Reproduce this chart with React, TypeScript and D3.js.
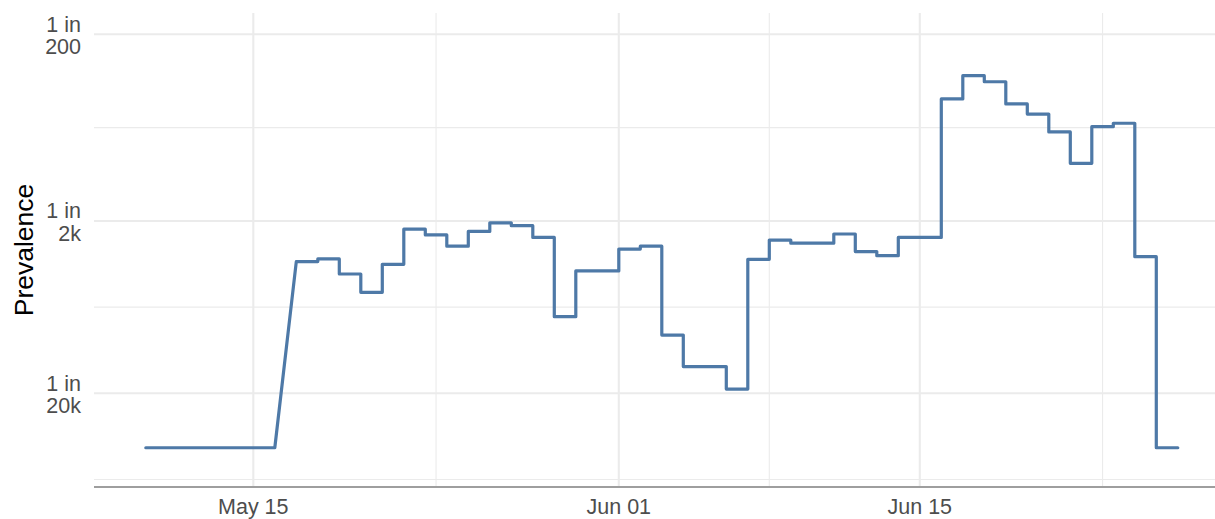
import React from 'react'
import * as d3 from 'd3'

// daily prevalence, shown as "1 in N" (null = no estimate that day)
const firstDay = new Date(Date.UTC(2021, 4, 10))
const lastDay = new Date(Date.UTC(2021, 5, 27))
const oneIn: (number | null)[] = [
  41400, 41400, 41400, 41400, 41400, 41400, null,
  3440, 3320, 4060, 5190, 3570, 2230, 2410, 2800, 2300, 2050, 2130, 2490, 7180, 3900, 3900,
  2910, 2800, 9180, 14000, 14000, 18900, 3340, 2580, 2690, 2690, 2380, 3010, 3180, 2490, 2490,
  444, 333, 359, 472, 535, 667, 982, 625, 599, 3220, 41400
]

const yTicks = [200, 2000, 20000]
const yTickLabels = ['200', '2k', '20k']
const xTicks = [new Date(Date.UTC(2021, 4, 15)), new Date(Date.UTC(2021, 5, 1)), new Date(Date.UTC(2021, 5, 15))]
const xTickLabels = ['May 15', 'Jun 01', 'Jun 15']

export default function App() {
  const width = 1215
  const height = 519
  const panel = { left: 94, right: 1215, top: 13, bottom: 487 }

  const days = d3.utcDay.range(firstDay, lastDay)

  const x = d3.scaleUtc().domain([firstDay, lastDay]).range([145.8, 1177.8])
  const y = d3.scaleLog()
    .domain(yTicks.map(n => 1 / n).reverse())
    .range([393.3, 221, 34.3])

  // ggplot-style minor breaks: halfway between majors, extended by first gap
  const step = +xTicks[1] - +xTicks[0]
  const ext = [+xTicks[0] - step, ...xTicks.map(d => +d), +xTicks[xTicks.length - 1] + step]
  const xMinor = d3.pairs(ext).map(([a, b]) => new Date((a + b) / 2))
    .filter(d => x(d) > panel.left && x(d) < panel.right)
  const yMinor = [632.5, 6325, 63246].map(n => 1 / n)

  const pts: [number, number][] = []
  days.forEach((d, i) => {
    const v = oneIn[i]
    if (v == null) return
    pts.push([x(d), y(1 / v)])
    pts.push([x(d3.utcDay.offset(d, 1)), y(1 / v)])
  })
  const line = d3.line()

  const font = "'Liberation Sans', Arial, Helvetica, sans-serif"

  return (
    <svg width={width} height={height} style={{ position: 'absolute', left: 0, top: 0, background: '#fff' }} fontFamily={font}>
      <g>
        {yMinor.map((v, i) => (
          <line key={'ym' + i} x1={panel.left} x2={panel.right} y1={y(v)} y2={y(v)} stroke="#ebebeb" strokeWidth={1.1} />
        ))}
        {xMinor.map((d, i) => (
          <line key={'xm' + i} x1={x(d)} x2={x(d)} y1={panel.top} y2={panel.bottom} stroke="#ebebeb" strokeWidth={1.1} />
        ))}
        {yTicks.map(n => (
          <line key={'yM' + n} x1={panel.left} x2={panel.right} y1={y(1 / n)} y2={y(1 / n)} stroke="#ebebeb" strokeWidth={2.1} />
        ))}
        {xTicks.map((d, i) => (
          <line key={'xM' + i} x1={x(d)} x2={x(d)} y1={panel.top} y2={panel.bottom} stroke="#ebebeb" strokeWidth={2.1} />
        ))}
      </g>

      <path d={line(pts) || ''} fill="none" stroke="#4e79a7" strokeWidth={3.2} strokeLinejoin="round" strokeLinecap="round" />

      <line x1={panel.left} x2={panel.right} y1={panel.bottom} y2={panel.bottom} stroke="#9e9e9e" strokeWidth={1.8} />

      <g fontSize={21.5} fill="#4d4d4d" textAnchor="end">
        {yTicks.map((n, i) => (
          <text key={'yt' + n} x={81} y={y(1 / n)}>
            <tspan x={81} dy={-2.6}>1 in</tspan>
            <tspan x={81} dy={22.3}>{yTickLabels[i]}</tspan>
          </text>
        ))}
      </g>
      <g fontSize={21.5} fill="#4d4d4d" textAnchor="middle">
        {xTicks.map((d, i) => (
          <text key={'xt' + i} x={x(d)} y={514}>{xTickLabels[i]}</text>
        ))}
      </g>
      <text transform={`translate(33,${(panel.top + panel.bottom) / 2}) rotate(-90)`} textAnchor="middle" fontSize={26.5} fill="#000">
        Prevalence
      </text>
    </svg>
  )
}
